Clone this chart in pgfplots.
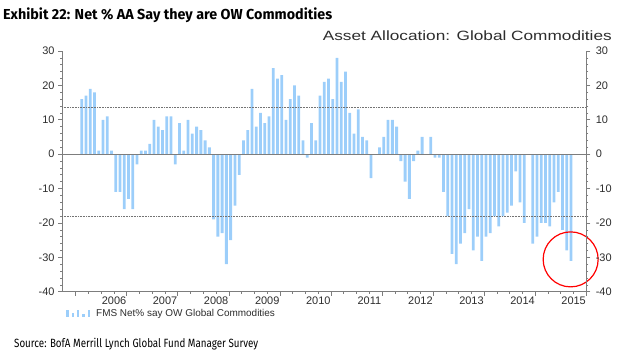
\documentclass[border=0pt]{standalone}
\usepackage{pgfplots}
\pgfplotsset{compat=1.18}
\usepackage{fontspec}
\usepackage{graphicx}
\setmainfont{Liberation Sans}
\newfontfamily\titlefont{Fira Sans}
\definecolor{barblue}{RGB}{156,206,250}
\definecolor{axgray}{RGB}{125,125,125}
\definecolor{txtgray}{RGB}{45,45,45}
\begin{document}
\begin{tikzpicture}[x=1bp,y=1bp]
\path[use as bounding box] (0,0) rectangle (634,359);
\node[anchor=base west, inner sep=0pt] at (3,339.5) {\resizebox{329bp}{\height}{\titlefont\bfseries\fontsize{14.5}{14.5}\selectfont Exhibit 22: Net \% AA Say they are OW Commodities}};
\node[anchor=base east, inner sep=0pt, text=txtgray] at (612,318.5) {\resizebox{289bp}{\height}{\fontsize{13.5}{13.5}\selectfont Asset Allocation: Global Commodities}};
\node[anchor=base west, inner sep=0pt] at (14,12) {\resizebox{244bp}{\height}{\titlefont\fontsize{12}{12}\selectfont Source: BofA Merrill Lynch Global Fund Manager Survey}};

\begin{axis}[
  at={(62bp,67.3bp)}, anchor=south west,
  scale only axis, width=524.3bp, height=240.7bp,
  xmin=-4.63, xmax=118.58, ymin=-40, ymax=30,
  axis x line*=bottom, axis y line*=left,
  axis line style={axgray, line width=0.8pt},
  xtick={-1.42,10.58,22.58,34.58,46.58,58.58,70.58,82.58,94.58,106.58,118.58},
  xticklabels={,2006,2007,2008,2009,2010,2011,2012,2013,2014,2015},
  minor x tick num=3,
  ytick={-40,-30,-20,-10,0,10,20,30},
  yticklabels={-40,-30,-20,-10,0,10,20,30},
  minor y tick num=4,
  tick align=outside,
  major tick length=4bp, minor tick length=2bp,
  tick style={axgray, line width=0.6pt},
  tick label style={font=\fontsize{11}{11}\selectfont, text=txtgray},
  xticklabel style={xshift=-12.7bp, yshift=2bp},
  clip=false,
  legend style={draw=none, fill=none, inner sep=0pt, anchor=west,
    at={(axis description cs:0.0076,-0.0926)},
    font=\fontsize{10}{10}\selectfont, text=txtgray,
    /tikz/every odd column/.append style={column sep=4bp}},
  legend cell align=left,
  legend image code/.code={
    \fill[barblue] (0bp,-3.5bp) rectangle (2.4bp,3.5bp);
    \fill[barblue] (5.4bp,-3.5bp) rectangle (7.8bp,0.5bp);
    \fill[barblue] (10.8bp,-3.5bp) rectangle (13.2bp,3.5bp);
    \fill[barblue] (16.2bp,-3.5bp) rectangle (18.6bp,0bp);
    \fill[barblue] (21.6bp,-3.5bp) rectangle (24bp,3.5bp);
  },
]
\addplot[ybar, bar width=2.8bp, fill=barblue, draw=none] coordinates {
(0,16) (1,17) (2,19) (3,18) (4,1) (5,10) (6,11) (7,1) (8,-11) (9,-11)
(10,-16) (11,-13) (12,-16) (13,-3) (14,1) (15,1) (16,3) (17,10) (18,8) (19,7)
(20,11) (21,11) (22,-3) (23,9) (24,1) (25,10) (26,6) (27,8) (28,7) (29,4)
(30,2) (31,-19) (32,-24) (33,-23) (34,-32) (35,-25) (36,-15) (37,-6) (38,4) (39,7)
(40,19) (41,8) (42,12) (43,9) (44,11) (45,25) (46,22) (47,23) (48,10) (49,16)
(50,20) (51,17) (52,4) (53,-1) (54,9) (55,4) (56,17) (57,21) (58,22) (59,16)
(60,28) (61,21) (62,24) (63,12) (64,6) (65,13) (66,5) (67,4) (68,-7) (69,0)
(70,2) (71,5) (72,10) (73,10) (74,8) (75,-2) (76,-8) (77,-13) (78,-2) (79,1)
(80,5) (81,0) (82,5) (83,-1) (84,-1) (85,-11) (86,-18) (87,-29) (88,-32) (89,-26)
(90,-23) (91,-16) (92,-28) (93,-24) (94,-31) (95,-24) (96,-23) (97,-18) (98,-21) (99,-18)
(100,-17) (101,-15) (102,-5) (103,-14) (104,-20) (106,-26) (107,-24) (108,-20) (109,-20)
(110,-21) (111,-14) (112,-11) (113,-22) (114,-28) (115,-31)
};
\addlegendentry{FMS Net\% say OW Global Commodities}
\draw[axgray, line width=0.9pt] (axis cs:-4.63,0) -- (axis cs:118.58,0);
\draw[black!55, densely dotted, line width=0.6pt] (axis cs:-4.63,13.6) -- (axis cs:118.58,13.6);
\draw[black!55, densely dotted, line width=0.6pt] (axis cs:-4.63,-18.2) -- (axis cs:118.58,-18.2);
\draw[red, line width=1.2pt] (axis cs:114.9,-30.6) circle[radius=27.5bp];
\end{axis}

\begin{axis}[
  at={(62bp,67.3bp)}, anchor=south west,
  scale only axis, width=524.3bp, height=240.7bp,
  xmin=-4.63, xmax=118.58, ymin=-40, ymax=30,
  axis x line=none, axis y line*=right,
  axis line style={axgray, line width=0.8pt},
  ytick={-40,-30,-20,-10,0,10,20,30},
  yticklabels={-40,-30,-20,-10,0,10,20,30},
  minor y tick num=4,
  tick align=outside,
  major tick length=4bp, minor tick length=2bp,
  tick style={axgray, line width=0.6pt},
  tick label style={font=\fontsize{11}{11}\selectfont, text=txtgray},
  yticklabel style={xshift=2bp},
]
\addplot[draw=none] coordinates {(0,0)};
\end{axis}
\end{tikzpicture}
\end{document}
